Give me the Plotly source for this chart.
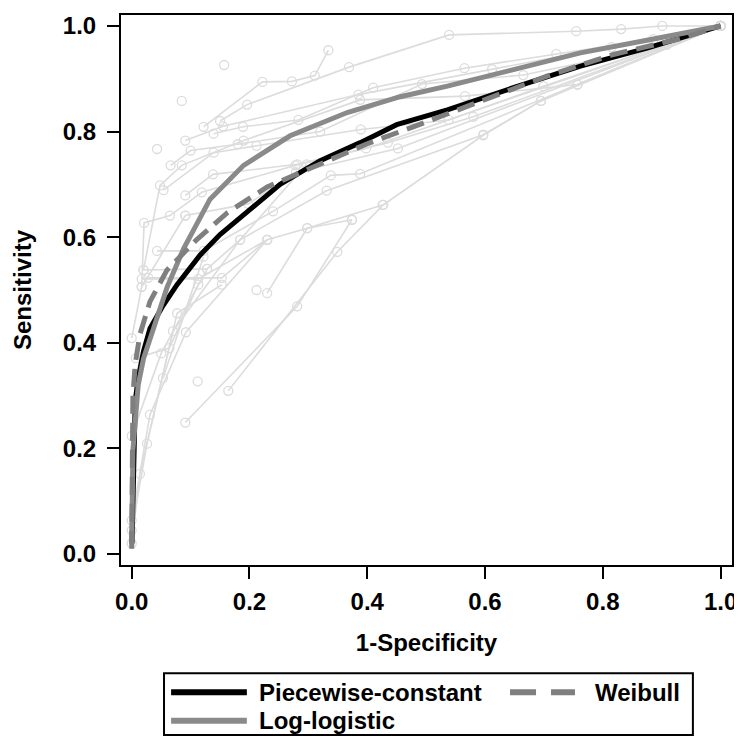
import plotly.graph_objects as go

# summary ROC curves (1-specificity, sensitivity)
pc_fpr = [0.0005, 0.002, 0.006, 0.011, 0.02, 0.031, 0.053, 0.077, 0.116, 0.15, 0.2, 0.252, 0.32, 0.388, 0.45, 0.536, 0.648, 0.762, 0.875, 1.0]
pc_tpr = [0.02, 0.13, 0.29, 0.333, 0.384, 0.427, 0.47, 0.51, 0.566, 0.605, 0.652, 0.70, 0.745, 0.779, 0.813, 0.841, 0.883, 0.924, 0.958, 1.0]

ll_fpr = [0.0, 0.002, 0.011, 0.02, 0.037, 0.06, 0.088, 0.133, 0.19, 0.269, 0.366, 0.456, 0.536, 0.648, 0.762, 0.875, 1.0]
ll_tpr = [0.02, 0.196, 0.32, 0.37, 0.427, 0.505, 0.578, 0.672, 0.736, 0.792, 0.836, 0.866, 0.886, 0.917, 0.949, 0.973, 1.0]

wb_fpr = [0.0, 0.001, 0.002, 0.006, 0.014, 0.031, 0.06, 0.11, 0.162, 0.23, 0.3, 0.4, 0.478, 0.592, 0.705, 0.818, 0.932, 1.0]
wb_tpr = [0.01, 0.2, 0.3, 0.36, 0.416, 0.478, 0.538, 0.595, 0.646, 0.695, 0.728, 0.777, 0.809, 0.858, 0.905, 0.946, 0.976, 1.0]

# individual studies
study_fpr = [
    [0.085],
    [0.157],
    [0.122, 0.222, 0.272, 0.311, 0.334],
    [0.15, 0.196, 0.369, 0.539, 0.755, 0.831, 0.901, 1.0],
    [0.139, 0.189, 0.283, 0.41, 0.565, 0.721, 0.886, 1.0],
    [0.091, 0.155, 0.385, 0.612, 0.815, 1.0],
    [0.043],
    [0.066, 0.1, 0.18, 0.32, 0.493, 0.665, 0.909, 1.0],
    [0.02, 0.048, 0.085, 0.19, 0.388, 0.566, 0.757, 1.0],
    [0.054, 0.139, 0.212, 0.389, 0.538, 0.699, 1.0],
    [0.017, 0.021, 0.065, 0.119, 0.278, 0.435, 0.58, 1.0],
    [0.091, 0.198, 0.279, 0.452, 1.0],
    [0.091, 0.138, 0.281, 0.398, 1.0],
    [0.043, 0.122, 0.24, 0.338, 0.388, 1.0],
    [0.02, 0.128, 0.184, 0.331, 0.597, 0.695, 1.0],
    [0.017, 0.113, 0.23, 0.298, 0.374],
    [0.028, 0.153, 0.23],
    [0.0, 0.014, 0.07, 0.184, 0.297],
    [0.0, 0.026, 0.077, 0.153],
    [0.0, 0.031, 0.092, 0.23],
    [0.0, 0.05, 0.128],
    [0.0, 0.017, 0.091],
    [0.007, 0.064, 0.113],
    [0.053, 0.122],
    [0.112],
    [0.212],
    [0.091, 0.281, 0.374],
    [0.164, 0.349, 0.427, 0.597, 0.695, 0.757, 1.0],
    [0.23, 0.298, 0.426],
]
study_tpr = [
    [0.858],
    [0.926],
    [0.809, 0.894, 0.895, 0.906, 0.954],
    [0.82, 0.851, 0.922, 0.983, 0.99, 0.994, 1.0, 1.0],
    [0.796, 0.809, 0.822, 0.883, 0.92, 0.947, 0.975, 1.0],
    [0.783, 0.81, 0.87, 0.918, 0.96, 1.0],
    [0.767],
    [0.736, 0.764, 0.776, 0.80, 0.89, 0.907, 0.964, 1.0],
    [0.538, 0.698, 0.736, 0.783, 0.86, 0.867, 0.889, 1.0],
    [0.689, 0.76, 0.773, 0.804, 0.822, 0.886, 1.0],
    [0.506, 0.627, 0.641, 0.685, 0.736, 0.779, 0.828, 1.0],
    [0.641, 0.663, 0.723, 0.768, 1.0],
    [0.679, 0.719, 0.738, 0.768, 1.0],
    [0.574, 0.574, 0.649, 0.717, 0.72, 1.0],
    [0.538, 0.54, 0.595, 0.688, 0.794, 0.858, 1.0],
    [0.521, 0.521, 0.595, 0.617, 0.633],
    [0.523, 0.523, 0.595],
    [0.02, 0.152, 0.422, 0.595, 0.738],
    [0.045, 0.209, 0.456, 0.51],
    [0.064, 0.264, 0.42, 0.595],
    [0.224, 0.38, 0.54],
    [0.409, 0.506, 0.641],
    [0.371, 0.39, 0.51],
    [0.333, 0.563],
    [0.327],
    [0.50],
    [0.249, 0.469, 0.633],
    [0.309, 0.572, 0.661, 0.793, 0.858, 0.889, 1.0],
    [0.494, 0.617, 0.661],
]

series_names = ["Piecewise-constant", "Weibull", "Log-logistic"]
tick_vals = [0.0, 0.2, 0.4, 0.6, 0.8, 1.0]

FONT = "Liberation Sans"
LIGHT = "#dcdcdc"
MID = "#8a8a8a"

fig = go.Figure()

for fx, fy in zip(study_fpr, study_tpr):
    fig.add_trace(go.Scatter(
        x=fx, y=fy, mode="lines+markers",
        line=dict(color=LIGHT, width=1.6),
        marker=dict(symbol="circle-open", size=9, color=LIGHT, line=dict(width=1.3)),
        showlegend=False, hoverinfo="skip"))

fig.add_trace(go.Scatter(x=pc_fpr, y=pc_tpr, mode="lines", name=series_names[0],
                         line=dict(color="black", width=5), showlegend=False))
fig.add_trace(go.Scatter(x=ll_fpr, y=ll_tpr, mode="lines", name=series_names[2],
                         line=dict(color=MID, width=5), showlegend=False))
fig.add_trace(go.Scatter(x=wb_fpr, y=wb_tpr, mode="lines", name=series_names[1],
                         line=dict(color="#7f7f7f", width=5, dash="18px,9px"), showlegend=False))

axis_style = dict(
    tickvals=tick_vals, tickformat=".1f",
    ticks="outside", ticklen=12, tickwidth=2, tickcolor="black",
    showline=True, linewidth=2, linecolor="black", mirror=True,
    showgrid=False, zeroline=False,
    tickfont=dict(family=FONT, size=24, color="black", weight="bold"),
)

title_font = dict(family=FONT, size=24, color="black", weight="bold")
fig.update_xaxes(range=[-0.0182, 1.0194], ticklabelstandoff=2,
                 title=dict(text="1-Specificity", standoff=20, font=title_font),
                 **axis_style)
fig.update_yaxes(range=[-0.0207, 1.0207], ticklabelstandoff=6,
                 title=dict(text="Sensitivity", standoff=24, font=title_font),
                 **axis_style)

# hand-drawn legend box below the plot (paper coordinates)
leg_font = dict(family=FONT, size=24, color="black", weight="bold")
shapes = [
    dict(type="rect", xref="paper", yref="paper", x0=0.0704, x1=0.936, y0=-0.309, y1=-0.197,
         line=dict(color="black", width=2)),
    dict(type="line", xref="paper", yref="paper", x0=0.082, x1=0.206, y0=-0.2315, y1=-0.2315,
         line=dict(color="black", width=6)),
    dict(type="line", xref="paper", yref="paper", x0=0.6367, x1=0.743, y0=-0.2315, y1=-0.2315,
         line=dict(color="#7f7f7f", width=6, dash="26px,15px")),
    dict(type="line", xref="paper", yref="paper", x0=0.082, x1=0.206, y0=-0.283, y1=-0.283,
         line=dict(color=MID, width=6)),
]
annotations = [
    dict(text=series_names[0], xref="paper", yref="paper", x=0.2226, y=-0.2315,
         xanchor="left", yanchor="middle", showarrow=False, font=leg_font),
    dict(text=series_names[1], xref="paper", yref="paper", x=0.772, y=-0.2315,
         xanchor="left", yanchor="middle", showarrow=False, font=leg_font),
    dict(text=series_names[2], xref="paper", yref="paper", x=0.2226, y=-0.283,
         xanchor="left", yanchor="middle", showarrow=False, font=leg_font),
]

# the page body adds an 8px margin, so the figure is 8px smaller and shifted
fig.update_layout(
    width=734, height=729,
    margin=dict(l=113, r=10, t=4, b=172),
    paper_bgcolor="white", plot_bgcolor="white",
    shapes=shapes, annotations=annotations,
    showlegend=False,
)

fig.write_html("out.html")
